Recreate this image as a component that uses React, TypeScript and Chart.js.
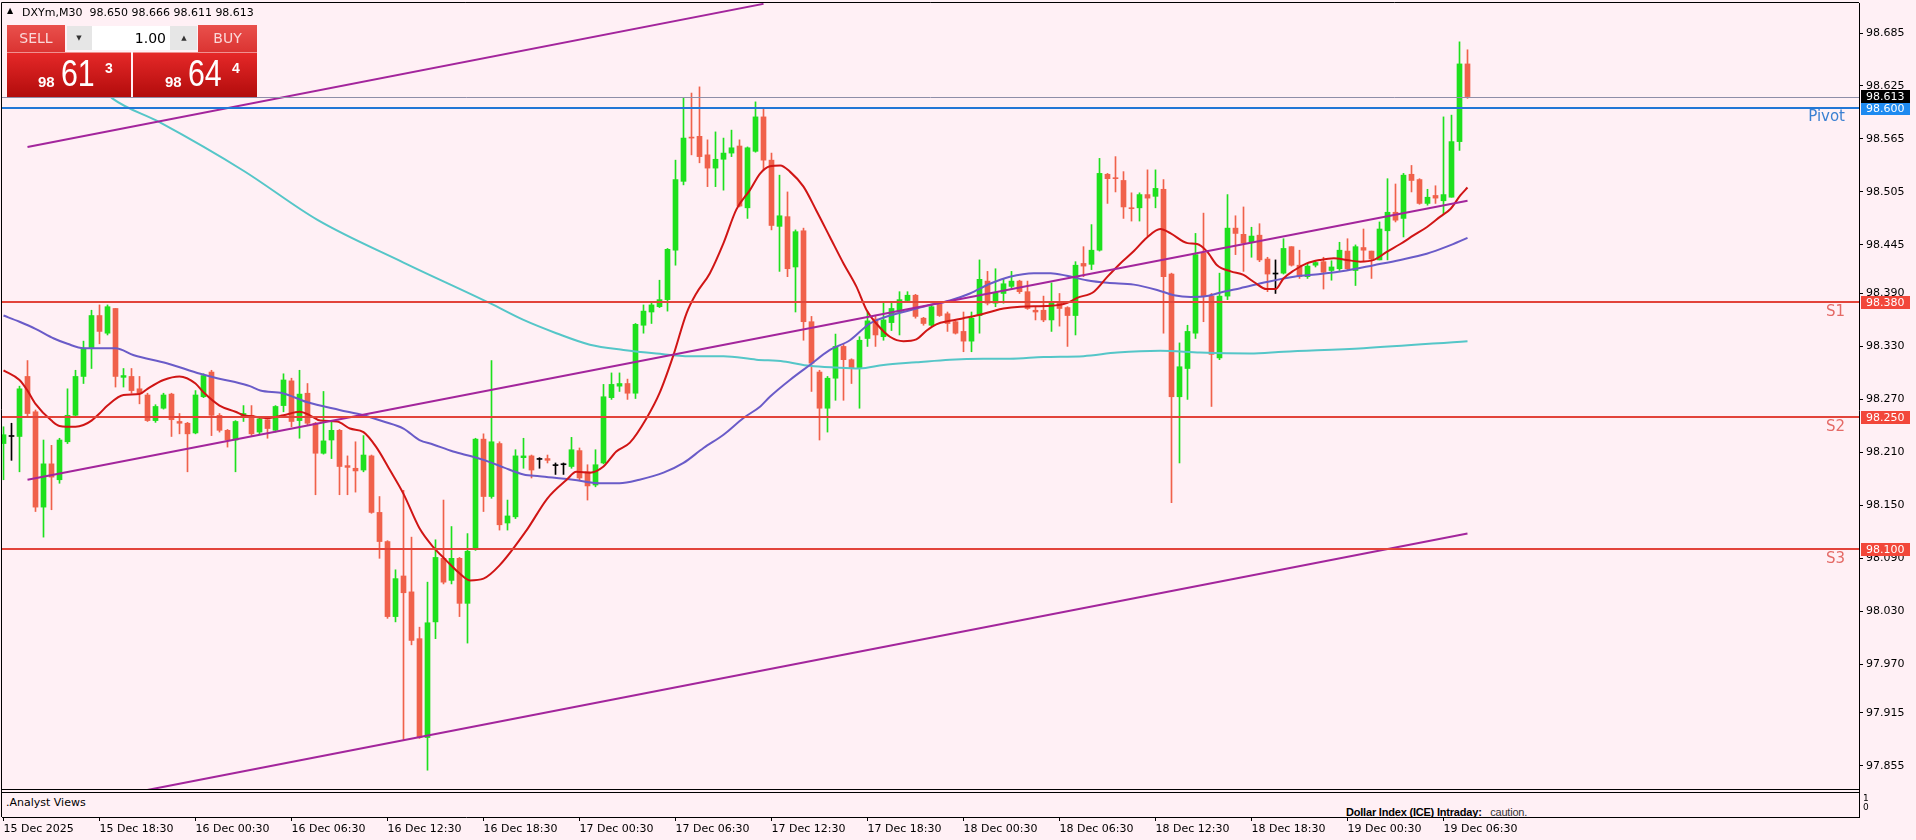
import React, { useEffect, useRef } from 'react';
import { Chart, registerables } from 'chart.js';

Chart.register(...registerables);

// ---------- data ----------
const symbolName = 'DXYm,M30';
const bidPrice = 98.613;
const askPrice = 98.644;
const lotSize = '1.00';

const opens = [
  98.220, 98.228, 98.228, 98.296, 98.256, 98.148, 98.197, 98.179, 98.222, 98.252,
  98.296, 98.328, 98.365, 98.345, 98.373, 98.295, 98.296, 98.282, 98.275, 98.246,
  98.260, 98.276, 98.245, 98.243, 98.232, 98.273, 98.301, 98.252, 98.235, 98.224,
  98.250, 98.252, 98.233, 98.247, 98.235, 98.263, 98.291, 98.246, 98.277, 98.243,
  98.209, 98.224, 98.235, 98.195, 98.192, 98.190, 98.206, 98.142, 98.109, 98.024,
  98.070, 98.052, 97.999, 97.887, 98.018, 98.090, 98.065, 98.090, 98.039, 98.100,
  98.225, 98.160, 98.220, 98.130, 98.137, 98.204, 98.206, 98.202, 98.203, 98.195,
  98.196, 98.194, 98.212, 98.188, 98.173, 98.198, 98.272, 98.285, 98.288, 98.277,
  98.354, 98.369, 98.375, 98.383, 98.439, 98.517, 98.567, 98.568, 98.547, 98.532,
  98.542, 98.549, 98.557, 98.487, 98.551, 98.590, 98.541, 98.466, 98.477, 98.420,
  98.461, 98.358, 98.301, 98.260, 98.294, 98.330, 98.315, 98.305, 98.339, 98.361,
  98.341, 98.357, 98.369, 98.382, 98.388, 98.362, 98.354, 98.378, 98.367, 98.358,
  98.347, 98.336, 98.365, 98.404, 98.379, 98.390, 98.398, 98.404, 98.392, 98.371,
  98.371, 98.360, 98.381, 98.374, 98.365, 98.424, 98.423, 98.439, 98.525, 98.521,
  98.518, 98.487, 98.487, 98.502, 98.500, 98.508, 98.412, 98.273, 98.305, 98.345,
  98.436, 98.387, 98.317, 98.387, 98.464, 98.457, 98.448, 98.456, 98.429, 98.412,
  98.413, 98.443, 98.422, 98.409, 98.422, 98.426, 98.416, 98.418, 98.438, 98.416,
  98.442, 98.438, 98.428, 98.461, 98.482, 98.475, 98.525, 98.519, 98.492, 98.501,
  98.495, 98.499, 98.562, 98.650,
];
const highs = [
  98.239, 98.243, 98.285, 98.314, 98.258, 98.224, 98.218, 98.226, 98.282, 98.303,
  98.336, 98.371, 98.377, 98.377, 98.373, 98.305, 98.305, 98.296, 98.277, 98.264,
  98.277, 98.277, 98.254, 98.244, 98.280, 98.299, 98.303, 98.254, 98.236, 98.246,
  98.263, 98.263, 98.250, 98.249, 98.263, 98.299, 98.294, 98.303, 98.288, 98.244,
  98.279, 98.246, 98.236, 98.206, 98.222, 98.229, 98.207, 98.160, 98.110, 98.077,
  98.167, 98.114, 98.012, 98.063, 98.111, 98.156, 98.126, 98.091, 98.118, 98.226,
  98.231, 98.314, 98.222, 98.156, 98.213, 98.226, 98.207, 98.204, 98.207, 98.198,
  98.198, 98.227, 98.215, 98.196, 98.213, 98.287, 98.300, 98.300, 98.293, 98.356,
  98.377, 98.381, 98.405, 98.441, 98.541, 98.611, 98.617, 98.624, 98.564, 98.573,
  98.566, 98.575, 98.564, 98.556, 98.607, 98.600, 98.549, 98.524, 98.505, 98.462,
  98.464, 98.364, 98.303, 98.296, 98.344, 98.333, 98.316, 98.341, 98.369, 98.365,
  98.379, 98.379, 98.392, 98.392, 98.389, 98.363, 98.377, 98.379, 98.369, 98.359,
  98.369, 98.369, 98.428, 98.415, 98.418, 98.407, 98.415, 98.405, 98.404, 98.375,
  98.387, 98.402, 98.390, 98.375, 98.426, 98.443, 98.468, 98.543, 98.526, 98.545,
  98.528, 98.504, 98.504, 98.530, 98.530, 98.519, 98.413, 98.334, 98.354, 98.458,
  98.481, 98.390, 98.413, 98.502, 98.478, 98.488, 98.465, 98.469, 98.431, 98.428,
  98.452, 98.443, 98.439, 98.424, 98.427, 98.431, 98.427, 98.448, 98.452, 98.445,
  98.463, 98.438, 98.471, 98.520, 98.514, 98.526, 98.535, 98.520, 98.508, 98.512,
  98.590, 98.592, 98.675, 98.666,
];
const lows = [
  98.179, 98.201, 98.188, 98.250, 98.143, 98.114, 98.145, 98.175, 98.220, 98.250,
  98.288, 98.305, 98.333, 98.343, 98.284, 98.284, 98.277, 98.265, 98.245, 98.244,
  98.259, 98.228, 98.231, 98.188, 98.231, 98.272, 98.229, 98.233, 98.216, 98.188,
  98.245, 98.229, 98.231, 98.226, 98.233, 98.256, 98.239, 98.226, 98.241, 98.162,
  98.208, 98.203, 98.162, 98.162, 98.165, 98.188, 98.141, 98.090, 98.022, 98.018,
  97.884, 97.992, 97.886, 97.850, 97.999, 98.061, 98.061, 98.024, 97.994, 98.099,
  98.143, 98.158, 98.122, 98.122, 98.135, 98.192, 98.181, 98.192, 98.198, 98.185,
  98.185, 98.192, 98.179, 98.156, 98.171, 98.197, 98.270, 98.279, 98.270, 98.271,
  98.345, 98.356, 98.374, 98.370, 98.422, 98.513, 98.547, 98.538, 98.511, 98.511,
  98.507, 98.545, 98.488, 98.475, 98.550, 98.530, 98.462, 98.415, 98.409, 98.369,
  98.337, 98.279, 98.224, 98.233, 98.269, 98.269, 98.288, 98.260, 98.330, 98.330,
  98.337, 98.348, 98.343, 98.381, 98.362, 98.354, 98.353, 98.364, 98.347, 98.344,
  98.324, 98.324, 98.345, 98.377, 98.375, 98.379, 98.396, 98.390, 98.372, 98.360,
  98.358, 98.347, 98.353, 98.330, 98.343, 98.409, 98.417, 98.438, 98.492, 98.505,
  98.475, 98.472, 98.472, 98.455, 98.487, 98.345, 98.153, 98.198, 98.270, 98.339,
  98.358, 98.262, 98.315, 98.383, 98.434, 98.415, 98.431, 98.426, 98.392, 98.390,
  98.412, 98.421, 98.407, 98.407, 98.420, 98.395, 98.405, 98.416, 98.416, 98.399,
  98.426, 98.407, 98.428, 98.428, 98.471, 98.454, 98.505, 98.491, 98.490, 98.492,
  98.480, 98.499, 98.552, 98.611,
];
const closes = [
  98.230, 98.228, 98.282, 98.254, 98.148, 98.197, 98.182, 98.224, 98.252, 98.296,
  98.328, 98.365, 98.347, 98.375, 98.296, 98.297, 98.280, 98.277, 98.246, 98.262,
  98.275, 98.247, 98.243, 98.231, 98.275, 98.297, 98.252, 98.235, 98.224, 98.245,
  98.254, 98.231, 98.248, 98.237, 98.262, 98.292, 98.245, 98.276, 98.243, 98.209,
  98.223, 98.235, 98.194, 98.193, 98.189, 98.207, 98.142, 98.109, 98.024, 98.067,
  98.051, 97.997, 97.887, 98.017, 98.091, 98.063, 98.090, 98.039, 98.098, 98.225,
  98.160, 98.222, 98.128, 98.138, 98.206, 98.206, 98.190, 98.202, 98.201, 98.195,
  98.196, 98.213, 98.181, 98.172, 98.196, 98.273, 98.287, 98.288, 98.277, 98.355,
  98.370, 98.377, 98.383, 98.440, 98.519, 98.566, 98.566, 98.545, 98.532, 98.542,
  98.549, 98.555, 98.489, 98.555, 98.590, 98.541, 98.467, 98.478, 98.418, 98.460,
  98.358, 98.311, 98.260, 98.294, 98.330, 98.315, 98.305, 98.337, 98.359, 98.343,
  98.360, 98.373, 98.383, 98.388, 98.364, 98.356, 98.375, 98.365, 98.356, 98.345,
  98.336, 98.362, 98.406, 98.379, 98.391, 98.401, 98.404, 98.392, 98.373, 98.369,
  98.360, 98.380, 98.373, 98.365, 98.422, 98.421, 98.439, 98.526, 98.520, 98.520,
  98.488, 98.486, 98.502, 98.498, 98.509, 98.409, 98.273, 98.307, 98.347, 98.434,
  98.387, 98.321, 98.387, 98.464, 98.458, 98.447, 98.455, 98.428, 98.412, 98.412,
  98.441, 98.422, 98.409, 98.421, 98.425, 98.414, 98.420, 98.439, 98.418, 98.443,
  98.439, 98.429, 98.463, 98.482, 98.473, 98.524, 98.518, 98.492, 98.499, 98.498,
  98.502, 98.562, 98.650, 98.613,
];

// moving averages: [bar index, price]
const fastMA = [
  [0, 98.303], [2, 98.292], [3, 98.280], [4, 98.265], [6, 98.246], [7, 98.240], [9, 98.239],
  [10, 98.241], [11, 98.246], [12, 98.254], [13, 98.263], [15, 98.275], [17, 98.276], [18, 98.282],
  [20, 98.292], [22, 98.296], [24, 98.288], [25, 98.278], [27, 98.263], [29, 98.256], [30, 98.252],
  [31, 98.251], [33, 98.249], [35, 98.252], [37, 98.256], [38.3, 98.252], [39.6, 98.246],
  [41.7, 98.245], [43.3, 98.237], [45, 98.233], [46.6, 98.216], [48.3, 98.190], [50, 98.163],
  [52, 98.124], [53.7, 98.103], [55.3, 98.088], [57, 98.073], [58.3, 98.065], [60, 98.067],
  [62, 98.082], [65.4, 98.122], [68, 98.158], [70.4, 98.179], [71.6, 98.188], [73.3, 98.187],
  [75, 98.194], [76.6, 98.211], [78.3, 98.221], [80.4, 98.249], [82, 98.277], [83.7, 98.319],
  [85.4, 98.368], [86.6, 98.390], [88.3, 98.413], [90, 98.447], [91.6, 98.485], [93.3, 98.507],
  [94.6, 98.526], [95.8, 98.534], [97.1, 98.535], [98.3, 98.528], [100, 98.511], [101.6, 98.484],
  [103.3, 98.454], [105, 98.424], [106.6, 98.398], [107.9, 98.371], [109.1, 98.356],
  [110.8, 98.341], [112.5, 98.336], [114.1, 98.338], [115.4, 98.348], [116.6, 98.355],
  [118.3, 98.359], [120, 98.362], [121.6, 98.365], [123.3, 98.369], [125, 98.373],
  [127.1, 98.375], [130.9, 98.376], [132.9, 98.379], [134.2, 98.385], [136.3, 98.392],
  [138, 98.409], [139.6, 98.424], [141.3, 98.438], [142.9, 98.453], [144.6, 98.463],
  [145.9, 98.458], [148, 98.447], [149.2, 98.446], [150.4, 98.438], [151.7, 98.422],
  [153.4, 98.415], [155, 98.411], [156.3, 98.403], [157.9, 98.395], [159, 98.395], [160, 98.407],
  [161.3, 98.416], [162.9, 98.424], [164.6, 98.428], [166.3, 98.430], [167.9, 98.428],
  [169.6, 98.426], [171.3, 98.428], [172.9, 98.437], [174.6, 98.446], [176.3, 98.456],
  [177.9, 98.465], [179.6, 98.477], [180.9, 98.486], [182.1, 98.501], [183, 98.510],
];
const slowMA = [
  [0, 98.365], [2, 98.358], [4, 98.350], [6.3, 98.339], [8, 98.333], [10, 98.328], [14, 98.328],
  [16.3, 98.320], [20.4, 98.311], [24.6, 98.299], [26.7, 98.294], [28.8, 98.290], [30.8, 98.285],
  [32.1, 98.280], [34.9, 98.277], [37.9, 98.267], [42, 98.258], [45, 98.252], [47.5, 98.245],
  [50, 98.237], [52, 98.224], [53.7, 98.219], [56.2, 98.211], [58.7, 98.205], [60.8, 98.199],
  [62.5, 98.193], [65, 98.185], [67, 98.183], [71.2, 98.179], [74.5, 98.175], [77, 98.175],
  [79.5, 98.179], [82.5, 98.187], [85, 98.198], [87.5, 98.215], [90, 98.230], [92.5, 98.249],
  [94.6, 98.262], [95.8, 98.273], [98.3, 98.292], [100.8, 98.309], [103.3, 98.326],
  [105.8, 98.337], [108.3, 98.356], [110.8, 98.365], [113.3, 98.371], [115.8, 98.377],
  [118.3, 98.382], [120.8, 98.390], [123.3, 98.401], [125.8, 98.409], [128.8, 98.413],
  [130.9, 98.413], [132.9, 98.410], [135.4, 98.405], [138, 98.402], [141.3, 98.400],
  [144.2, 98.394], [146.3, 98.388], [148.4, 98.386], [150.4, 98.387], [152.5, 98.392],
  [154.6, 98.396], [157.9, 98.403], [161.3, 98.409], [164.6, 98.412], [167.9, 98.416],
  [171.3, 98.422], [174.6, 98.428], [177.9, 98.435], [180.4, 98.443], [183, 98.453],
];
const longMA = [
  [12, 98.625], [13.6, 98.611], [19.5, 98.584], [30, 98.529], [39.3, 98.473], [50, 98.425],
  [60.8, 98.379], [65, 98.360], [69.1, 98.345], [73.3, 98.332], [77.5, 98.326], [81.6, 98.322],
  [85.8, 98.319], [90, 98.319], [94.1, 98.315], [97.5, 98.313], [100.8, 98.308], [104.1, 98.306],
  [107, 98.305], [110, 98.309], [114.1, 98.312], [118.3, 98.315], [122.5, 98.316],
  [125.8, 98.316], [130, 98.318], [135, 98.319], [139.2, 98.323], [144.6, 98.325],
  [149.6, 98.323], [155.8, 98.322], [160, 98.324], [170, 98.328], [183, 98.336],
];

// channel trend lines: [bar index, price]
const channelUpper = [[3, 98.556], [95, 98.718]];
const channelMiddle = [[3, 98.179], [183, 98.495]];
const channelLower = [[17, 97.826], [183, 98.118]];

// pivot levels
const levelNames = ['Pivot', 'S1', 'S2', 'S3'];
const levelValues = [98.600, 98.380, 98.250, 98.100];

// axes
const priceTicks = [
  98.685, 98.625, 98.565, 98.505, 98.445, 98.390, 98.330, 98.270,
  98.210, 98.150, 98.090, 98.030, 97.970, 97.915, 97.855,
];
const timeTickIdx = [0, 12, 24, 36, 48, 60, 72, 84, 96, 108, 120, 132, 144, 156, 168, 180];
const timeTickLabels = [
  '15 Dec 2025', '15 Dec 18:30', '16 Dec 00:30', '16 Dec 06:30', '16 Dec 12:30', '16 Dec 18:30',
  '17 Dec 00:30', '17 Dec 06:30', '17 Dec 12:30', '17 Dec 18:30', '18 Dec 00:30', '18 Dec 06:30',
  '18 Dec 12:30', '18 Dec 18:30', '19 Dec 00:30', '19 Dec 06:30',
];

// ---------- styles ----------
const BG = '#FFF0F5';
const UP = '#1EE01E';
const DOWN = '#F0614B';
const FAST_C = '#D01515';
const SLOW_C = '#6A5BC8';
const LONG_C = '#55C6C8';
const TREND_C = '#A3259C';
const PIVOT_LINE = '#2277D6';
const PIVOT_TEXT = '#3B80D2';
const S_LINE = '#E2443A';
const S_TEXT = '#E46A66';
const PIVOT_TAG = '#1E8AF0';
const S_TAG = '#F2473A';
const FONT = '"DejaVu Sans", sans-serif';

const overlayPlugin = {
  id: 'mtOverlay',
  afterDatasetsDraw(chart: any) {
    const { ctx, chartArea: a } = chart;
    const y = chart.scales.y;
    ctx.save();
    ctx.beginPath();
    ctx.rect(a.left, a.top, a.right - a.left, a.bottom - a.top);
    ctx.clip();
    const yb = Math.round(y.getPixelForValue(bidPrice)) + 0.5;
    ctx.strokeStyle = '#8E8EA8';
    ctx.lineWidth = 1;
    ctx.beginPath();
    ctx.moveTo(a.left, yb);
    ctx.lineTo(a.right, yb);
    ctx.stroke();
    levelValues.forEach((v, k) => {
      const py = Math.round(y.getPixelForValue(v));
      ctx.strokeStyle = k === 0 ? PIVOT_LINE : S_LINE;
      ctx.lineWidth = 2;
      ctx.beginPath();
      ctx.moveTo(a.left, py);
      ctx.lineTo(a.right, py);
      ctx.stroke();
      ctx.fillStyle = k === 0 ? PIVOT_TEXT : S_TEXT;
      ctx.font = '15px ' + FONT;
      ctx.textAlign = 'right';
      ctx.textBaseline = 'alphabetic';
      ctx.fillText(levelNames[k], a.right - 14, py + (k === 0 ? 13 : 14));
    });
    ctx.restore();
  },
  afterDraw(chart: any) {
    const { ctx, chartArea: a } = chart;
    const y = chart.scales.y;
    ctx.save();
    ctx.strokeStyle = '#000';
    ctx.lineWidth = 1;
    ctx.beginPath();
    ctx.moveTo(a.left - 0.5, a.bottom);
    ctx.lineTo(a.left - 0.5, a.top - 0.5);
    ctx.lineTo(a.right, a.top - 0.5);
    ctx.stroke();
    const tagVals = [...levelValues, bidPrice];
    const tagColors = [PIVOT_TAG, S_TAG, S_TAG, S_TAG, '#000'];
    ctx.font = '11px ' + FONT;
    tagVals.forEach((v, k) => {
      const top = Math.round(y.getPixelForValue(v) - 6.5);
      ctx.fillStyle = tagColors[k];
      ctx.fillRect(a.right + 2, top, 49, 13);
      ctx.fillStyle = '#fff';
      ctx.textAlign = 'left';
      ctx.textBaseline = 'middle';
      ctx.fillText(v.toFixed(3), a.right + 7, top + 7);
    });
    ctx.restore();
  },
};

function splitPrice(p: number) {
  const s = p.toFixed(3);
  return [s.slice(0, 2), s.slice(3, 5), s.slice(5, 6)];
}

export default function App() {
  const ref = useRef<HTMLCanvasElement | null>(null);

  useEffect(() => {
    if (!ref.current) return;
    const colors = opens.map((o, i) => (closes[i] > o ? UP : closes[i] < o ? DOWN : '#000'));
    const wickData = opens.map((_, i) => ({ x: i, y: [lows[i], highs[i]] }));
    const bodyData = opens.map((o, i) => ({ x: i, y: [o, closes[i]] }));
    const toXY = (arr: number[][]) => arr.map(([x, v]) => ({ x, y: v }));
    const lineDs = (data: number[][], color: string, order: number, smooth: boolean) => ({
      type: 'line',
      data: toXY(data),
      borderColor: color,
      borderWidth: 2,
      pointRadius: 0,
      fill: false,
      cubicInterpolationMode: smooth ? 'monotone' : 'default',
      tension: 0,
      order,
    });

    const chart = new Chart(ref.current, {
      type: 'bar',
      data: {
        datasets: [
          { type: 'bar', data: wickData, backgroundColor: colors, barThickness: 1, grouped: false, order: 10 },
          { type: 'bar', data: bodyData, backgroundColor: colors, barThickness: 5, grouped: false, minBarLength: 1, order: 9 },
          lineDs(longMA, LONG_C, 5, true),
          lineDs(slowMA, SLOW_C, 4, true),
          lineDs(fastMA, FAST_C, 3, true),
          lineDs(channelUpper, TREND_C, 1, false),
          lineDs(channelMiddle, TREND_C, 1, false),
          lineDs(channelLower, TREND_C, 1, false),
        ] as any,
      },
      options: {
        animation: false,
        responsive: false,
        devicePixelRatio: 1,
        events: [],
        layout: { padding: { left: 2, top: 3, right: 0, bottom: 0 } },
        plugins: { legend: { display: false }, tooltip: { enabled: false } },
        scales: {
          x: {
            type: 'linear',
            min: -0.1875,
            max: 231.9375,
            offset: false,
            grid: { display: true, drawOnChartArea: false, drawTicks: true, tickLength: 4, color: '#000', offset: false },
            border: { display: true, color: '#000' },
            afterBuildTicks: (axis: any) => {
              axis.ticks = timeTickIdx.map((v) => ({ value: v }));
            },
            afterFit: (scale: any) => {
              scale.height = 23;
              scale.paddingLeft = 0;
              scale.paddingRight = 0;
            },
            ticks: {
              autoSkip: false,
              maxRotation: 0,
              minRotation: 0,
              align: 'start',
              padding: 2,
              color: '#000',
              font: { family: 'DejaVu Sans', size: 11 },
              callback: (v: any) => {
                const k = timeTickIdx.indexOf(Number(v));
                return k >= 0 ? timeTickLabels[k] : null;
              },
            },
          },
          y: {
            type: 'linear',
            position: 'right',
            min: 97.797,
            max: 98.719,
            grid: { display: true, drawOnChartArea: false, drawTicks: true, tickLength: 4, color: '#000' },
            border: { display: true, color: '#000' },
            afterBuildTicks: (axis: any) => {
              axis.ticks = priceTicks.map((v) => ({ value: v }));
            },
            afterFit: (scale: any) => {
              scale.width = 57;
              scale.paddingTop = 0;
              scale.paddingBottom = 0;
            },
            ticks: {
              autoSkip: false,
              padding: 3,
              color: '#000',
              font: { family: 'DejaVu Sans', size: 11 },
              callback: (v: any) => Number(v).toFixed(3),
            },
          },
        },
      } as any,
      plugins: [overlayPlugin],
    });
    return () => chart.destroy();
  }, []);

  const last = opens.length - 1;
  const header = `${symbolName}  ${opens[last].toFixed(3)} ${highs[last].toFixed(3)} ${lows[last].toFixed(3)} ${closes[last].toFixed(3)}`;
  const [sBig, sMid, sSup] = splitPrice(bidPrice);
  const [bBig, bMid, bSup] = splitPrice(askPrice);

  const abs = (s: any) => ({ position: 'absolute' as const, ...s });
  const btn = { background: 'linear-gradient(#E9504C, #DB3432)', color: '#FAD8D8', fontSize: 14, textAlign: 'center' as const, lineHeight: '27px', height: 27, fontFamily: FONT };
  const priceBox = { top: 52, height: 45, width: 124, background: 'linear-gradient(#E52828, #B20C0C)', borderTop: '1px solid #F09090', boxSizing: 'border-box' as const };
  const bigFont = { color: '#fff', fontFamily: '"Liberation Sans", Arial, sans-serif', lineHeight: 1, whiteSpace: 'pre' as const };

  return (
    <div style={{ position: 'absolute', left: 0, top: 0, width: 1916, height: 840, background: BG, overflow: 'hidden', fontFamily: FONT }}>
      <canvas ref={ref} width={1916} height={840} style={{ position: 'absolute', left: 0, top: 0, display: 'block' }} />

      {/* header */}
      <div style={abs({ left: 7, top: 6, fontSize: 8, lineHeight: '10px', color: '#000' })}>▲</div>
      <div style={abs({ left: 22, top: 6, fontSize: 11, lineHeight: '13px', whiteSpace: 'pre', color: '#000' })}>{header}</div>

      {/* one-click trading panel */}
      <div style={abs({ left: 7, top: 25, width: 58, ...btn })}>SELL</div>
      <div style={abs({ left: 67, top: 26, width: 130, height: 24, background: '#E6E6E6' })} />
      <div style={abs({ left: 67, top: 26, width: 24, height: 24, fontSize: 7, lineHeight: '24px', textAlign: 'center', color: '#333' })}>▼</div>
      <div style={abs({ left: 92, top: 26, width: 78, height: 24, background: '#fff', fontSize: 14, lineHeight: '24px', textAlign: 'right', paddingRight: 4, boxSizing: 'border-box', color: '#000' })}>{lotSize}</div>
      <div style={abs({ left: 171, top: 26, width: 26, height: 24, fontSize: 7, lineHeight: '24px', textAlign: 'center', color: '#333' })}>▲</div>
      <div style={abs({ left: 198, top: 25, width: 59, ...btn })}>BUY</div>

      <div style={abs({ left: 7, ...priceBox })} />
      <div style={abs({ left: 133, ...priceBox })} />
      <div style={abs({ left: 38, top: 74, fontSize: 15, fontWeight: 'bold', ...bigFont })}>{sBig}</div>
      <div style={abs({ left: 61, top: 55, fontSize: 37, transform: 'scaleX(0.82)', transformOrigin: 'left top', ...bigFont })}>{sMid}</div>
      <div style={abs({ left: 105, top: 61, fontSize: 14, fontWeight: 'bold', ...bigFont })}>{sSup}</div>
      <div style={abs({ left: 165, top: 74, fontSize: 15, fontWeight: 'bold', ...bigFont })}>{bBig}</div>
      <div style={abs({ left: 188, top: 55, fontSize: 37, transform: 'scaleX(0.82)', transformOrigin: 'left top', ...bigFont })}>{bMid}</div>
      <div style={abs({ left: 232, top: 61, fontSize: 14, fontWeight: 'bold', ...bigFont })}>{bSup}</div>

      {/* indicator sub-window */}
      <div style={abs({ left: 2, top: 790, width: 1856, height: 27, background: BG })} />
      <div style={abs({ left: 2, top: 789, width: 1857, height: 1, background: '#000' })} />
      <div style={abs({ left: 2, top: 792, width: 1857, height: 1, background: '#000' })} />
      <div style={abs({ left: 1, top: 789, width: 1, height: 28, background: '#000' })} />
      <div style={abs({ left: 6, top: 796, fontSize: 11, lineHeight: '13px', color: '#000' })}>.Analyst Views</div>
      <div style={abs({ left: 1346, top: 805, height: 12, overflow: 'hidden', whiteSpace: 'pre', fontSize: 11, letterSpacing: '-0.2px', lineHeight: '14px', fontFamily: '"Liberation Sans", Arial, sans-serif', color: '#000' })}>
        <b>Dollar Index (ICE) Intraday:</b>{'   '}<span style={{ color: '#333' }}>caution.</span>
      </div>
      <div style={abs({ left: 1863, top: 794, fontSize: 9, lineHeight: '9px', color: '#000' })}>1</div>
      <div style={abs({ left: 1863, top: 803, fontSize: 9, lineHeight: '9px', color: '#000' })}>0</div>
    </div>
  );
}
